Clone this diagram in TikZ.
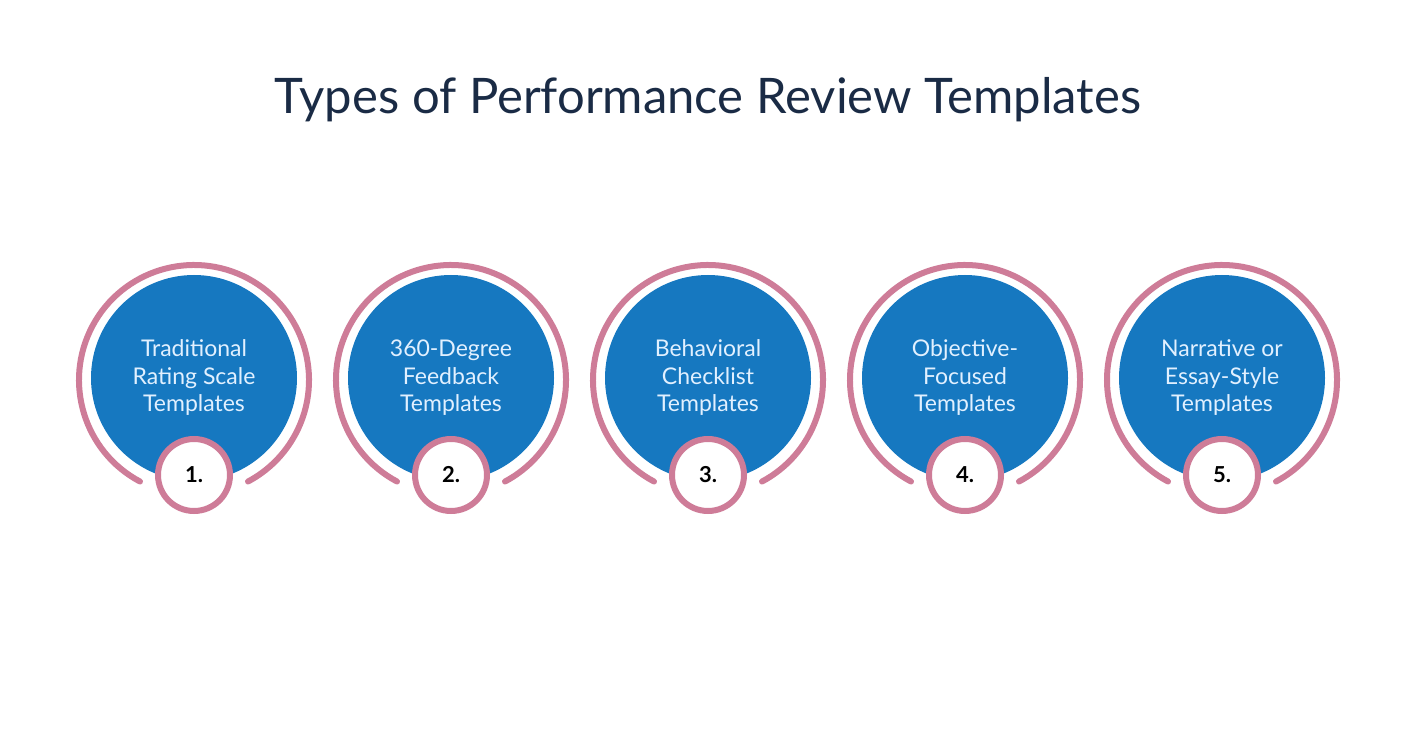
\documentclass[tikz,border=0pt]{standalone}
\usepackage{fontspec}
\setmainfont{Lato}
\definecolor{pinkring}{RGB}{206,124,152}
\definecolor{bluefill}{RGB}{22,120,192}
\definecolor{titlecol}{RGB}{26,43,69}
\definecolor{txtcol}{RGB}{225,240,255}
\begin{document}
\begin{tikzpicture}[x=1pt,y=-1pt,
  blue/.style={circle,fill=bluefill,minimum size=206pt,inner sep=0pt,align=center,text=txtcol,font=\fontsize{23}{27.5}\selectfont},
  numc/.style={circle,draw=pinkring,line width=6pt,fill=white,minimum size=72pt,inner sep=0pt,font=\fontsize{22}{26}\selectfont\bfseries},
  ring/.style={draw=pinkring,line width=6pt,line cap=round}]
\useasboundingbox (0,0) rectangle (1416,743);
\node[font=\fontsize{49}{54}\selectfont,text=titlecol] (title) at (708,100) {Types of Performance Review Templates};
\foreach \i/\t [count=\k] in {194/{Traditional\\Rating Scale\\Templates},451/{360-Degree\\Feedback\\Templates},708/{Behavioral\\Checklist\\Templates},965/{Objective-\\Focused\\Templates},1222/{Narrative or\\Essay-Style\\Templates}}{
  \draw[ring] (\i,380) ++(118:115) arc[start angle=118,end angle=422,radius=115];
  \node[blue] (b\k) at (\i,378) {\t};
  \node[numc] (n\k) at (\i,475) {\k.};
}
\end{tikzpicture}
\end{document}
